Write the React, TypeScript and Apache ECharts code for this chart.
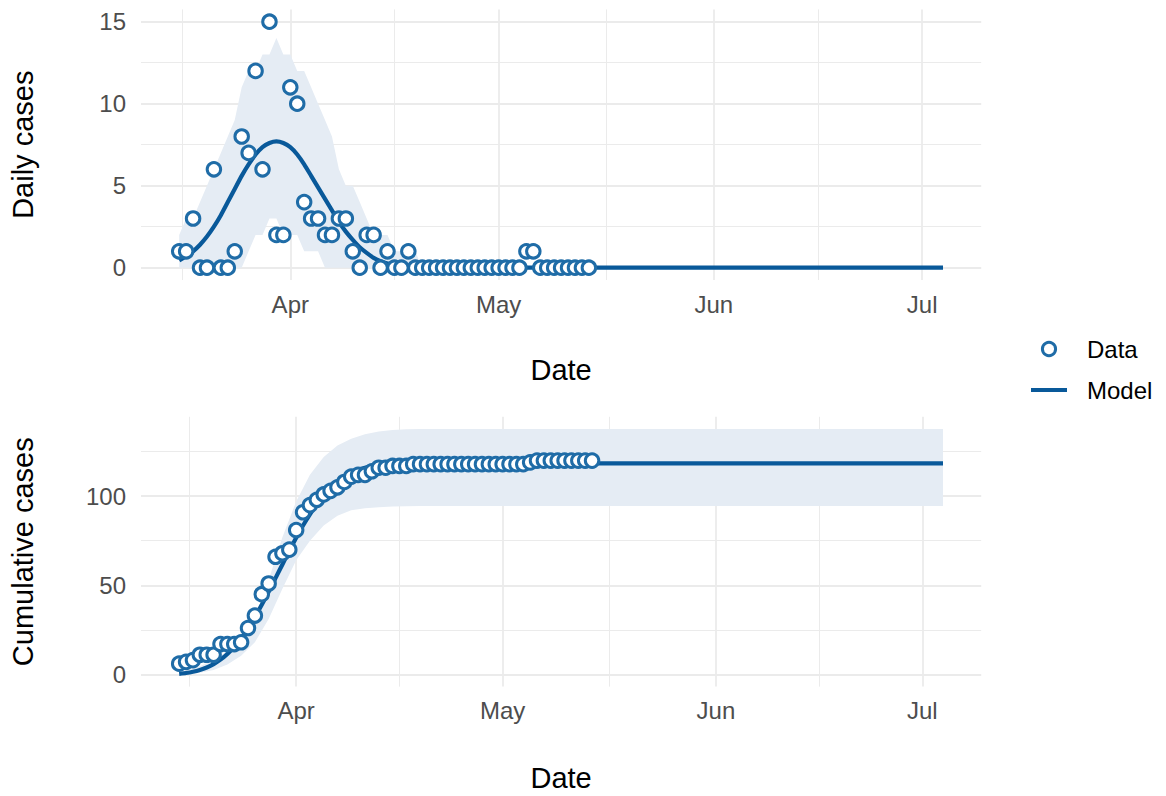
import React, { useEffect, useRef } from "react";
import * as echarts from "echarts";

// Days are counted from 1 April (day 0).
const monthTickDays = [0, 30, 61, 91];
const monthLabels = ["Apr", "May", "Jun", "Jul"];
const minorTickDays = [-15.5, 15, 45.5, 76];

const dailyTicks = [0, 5, 10, 15];
const dailyMinorTicks = [2.5, 7.5, 12.5];
const cumTicks = [0, 50, 100];
const cumMinorTicks = [25, 75, 125];

const dailyDays = [-16, -15, -14, -13, -12, -11, -10, -9, -8, -7, -6, -5, -4, -3, -2, -1, 0, 1, 2, 3, 4, 5, 6, 7, 8, 9, 10, 11, 12, 13, 14, 15, 16, 17, 18, 19, 20, 21, 22, 23, 24, 25, 26, 27, 28, 29, 30, 31, 32, 33, 34, 35, 36, 37, 38, 39, 40, 41, 42, 43];
const dailyCases = [1, 1, 3, 0, 0, 6, 0, 0, 1, 8, 7, 12, 6, 15, 2, 2, 11, 10, 4, 3, 3, 2, 2, 3, 3, 1, 0, 2, 2, 0, 1, 0, 0, 1, 0, 0, 0, 0, 0, 0, 0, 0, 0, 0, 0, 0, 0, 0, 0, 0, 1, 1, 0, 0, 0, 0, 0, 0, 0, 0];

const cumDays = [-17, -16, -15, -14, -13, -12, -11, -10, -9, -8, -7, -6, -5, -4, -3, -2, -1, 0, 1, 2, 3, 4, 5, 6, 7, 8, 9, 10, 11, 12, 13, 14, 15, 16, 17, 18, 19, 20, 21, 22, 23, 24, 25, 26, 27, 28, 29, 30, 31, 32, 33, 34, 35, 36, 37, 38, 39, 40, 41, 42, 43];
const cumulativeCases = [6, 7, 8, 11, 11, 11, 17, 17, 17, 18, 26, 33, 45, 51, 66, 68, 70, 81, 91, 95, 98, 101, 103, 105, 108, 111, 112, 112, 114, 116, 116, 117, 117, 117, 118, 118, 118, 118, 118, 118, 118, 118, 118, 118, 118, 118, 118, 118, 118, 118, 118, 119, 120, 120, 120, 120, 120, 120, 120, 120, 120];

const modelDays = [-16, -15, -14, -13, -12, -11, -10, -9, -8, -7, -6, -5, -4, -3, -2, -1, 0, 1, 2, 3, 4, 5, 6, 7, 8, 9, 10, 11, 12, 13, 14, 15, 16, 17, 18, 19, 20, 94];
const modelDaily = [0.45, 0.7, 1.0, 1.4, 1.9, 2.5, 3.2, 4.0, 4.8, 5.6, 6.3, 6.9, 7.35, 7.6, 7.7, 7.6, 7.35, 6.9, 6.3, 5.6, 4.9, 4.2, 3.5, 2.8, 2.2, 1.7, 1.25, 0.9, 0.6, 0.4, 0.25, 0.15, 0.08, 0.04, 0.02, 0.01, 0, 0];
const dailyUpper = [2, 3, 3, 4, 5, 6, 7, 8, 9, 11, 12, 12, 13, 13, 14, 13, 13, 12, 12, 11, 10, 9, 8, 6, 5, 5, 4, 3, 2, 2, 2, 1, 1, 1, 1, 0, 0, 0];
const dailyLower = [0, 0, 0, 0, 0, 0, 0, 0, 0, 0, 1, 2, 2, 3, 3, 2, 2, 2, 1, 1, 1, 0, 0, 0, 0, 0, 0, 0, 0, 0, 0, 0, 0, 0, 0, 0, 0, 0];

const modelCumDays = [-17, -16, -15, -14, -13, -12, -11, -10, -9, -8, -7, -6, -5, -4, -3, -2, -1, 0, 1, 2, 3, 4, 5, 6, 7, 8, 9, 10, 11, 12, 13, 14, 15, 16, 17, 18, 19, 20, 94];
const modelCumulative = [0.3, 0.75, 1.45, 2.45, 3.85, 5.75, 8.25, 11.45, 15.45, 20.25, 25.85, 32.15, 39.05, 46.4, 54.0, 61.7, 69.3, 76.65, 83.55, 89.85, 95.45, 100.35, 104.55, 108.05, 110.85, 113.05, 114.75, 116.0, 116.9, 117.5, 117.9, 118.15, 118.3, 118.38, 118.42, 118.44, 118.45, 118.45, 118.45];

const cumBandDays = [-17, -16, -14, -12, -10, -8, -6, -4, -2, 0, 2, 4, 6, 8, 10, 12, 14, 16, 18, 94];
const cumUpper = [1.5, 2.2, 4.5, 8, 13, 21, 32, 53, 77, 97, 112, 122, 128.5, 132.3, 134.8, 136.3, 137.2, 137.6, 137.7, 137.7];
const cumLower = [0, 0.2, 0.9, 2.4, 5.5, 10.5, 18, 31, 48, 64, 75, 83.5, 89, 92.1, 93.2, 93.8, 94.2, 94.4, 94.5, 94.5];

const FONT = "'Liberation Sans', Arial, Helvetica, sans-serif";
const CIRCLE = "#1F6CA7";
const LINE = "#09599A";
const BAND = "#E5ECF4";
const GRID = "#EBEBEB";

function pairs(xs: number[], ys: number[]) {
  return xs.map((x, i) => [x, ys[i]]);
}

function gridMarks(yMajor: number[], yMinor: number[]) {
  const minor = { color: GRID, width: 1, type: "solid" };
  const major = { color: GRID, width: 1.8, type: "solid" };
  return {
    symbol: ["none", "none"],
    silent: true,
    animation: false,
    z: 1,
    label: { show: false },
    emphasis: { disabled: true },
    data: [
      ...yMinor.map((v) => ({ yAxis: v, lineStyle: minor })),
      ...minorTickDays.map((v) => ({ xAxis: v, lineStyle: minor })),
      ...yMajor.map((v) => ({ yAxis: v, lineStyle: major })),
      ...monthTickDays.map((v) => ({ xAxis: v, lineStyle: major })),
    ],
  };
}

function bandSeries(axisIndex: number, xs: number[], hi: number[], lo: number[]) {
  return {
    type: "custom",
    xAxisIndex: axisIndex,
    yAxisIndex: axisIndex,
    data: [[xs[0], lo[0]]],
    silent: true,
    z: 2,
    renderItem: (params: any, api: any) => {
      if (params.dataIndex !== 0) return null;
      const upper = xs.map((x, i) => api.coord([x, hi[i]]));
      const lower = xs.map((x, i) => api.coord([x, lo[i]])).reverse();
      return {
        type: "polygon",
        shape: { points: upper.concat(lower) },
        style: { fill: BAND },
        silent: true,
      };
    },
  };
}

function xAxisCfg(gridIndex: number, min: number, max: number, nameGap: number) {
  return {
    type: "value",
    gridIndex,
    min,
    max,
    name: "Date",
    nameLocation: "middle",
    nameGap,
    nameTextStyle: { fontFamily: FONT, fontSize: 29, color: "#000000" },
    axisLine: { show: false },
    axisTick: { show: false },
    splitLine: { show: false },
    axisLabel: {
      customValues: monthTickDays,
      formatter: (v: number) => {
        const i = monthTickDays.indexOf(v);
        return i >= 0 ? monthLabels[i] : "";
      },
      fontFamily: FONT,
      fontSize: 24,
      color: "#4D4D4D",
      margin: 12,
    },
  };
}

function yAxisCfg(gridIndex: number, name: string, min: number, max: number, ticks: number[]) {
  return {
    type: "value",
    gridIndex,
    min,
    max,
    name,
    nameLocation: "middle",
    nameGap: 104,
    nameRotate: 90,
    nameTextStyle: { fontFamily: FONT, fontSize: 29, color: "#000000" },
    axisLine: { show: false },
    axisTick: { show: false },
    splitLine: { show: false },
    axisLabel: {
      customValues: ticks,
      fontFamily: FONT,
      fontSize: 24,
      color: "#4D4D4D",
      margin: 15,
    },
  };
}

export default function App() {
  const ref = useRef<HTMLDivElement>(null);

  useEffect(() => {
    document.body.style.margin = "0";
    if (!ref.current) return;
    const chart = echarts.init(ref.current, null, { renderer: "svg" });

    const option: any = {
      animation: false,
      backgroundColor: "#ffffff",
      grid: [
        { left: 140.8, top: 9.4, width: 840.4, height: 270.6 },
        { left: 140.8, top: 416.8, width: 840.4, height: 269.8 },
      ],
      xAxis: [xAxisCfg(0, -21.5, 99.5, 75), xAxisCfg(1, -22.55, 99.55, 77)],
      yAxis: [
        yAxisCfg(0, "Daily cases", -0.75, 15.75, dailyTicks),
        yAxisCfg(1, "Cumulative cases", -6.885, 144.585, cumTicks),
      ],
      graphic: [
        {
          type: "circle",
          shape: { cx: 1049, cy: 349, r: 6.6 },
          style: { fill: "#ffffff", stroke: CIRCLE, lineWidth: 3 },
          silent: true,
        },
        {
          type: "text",
          x: 1087,
          y: 349,
          style: { text: "Data", fontFamily: FONT, fontSize: 24, fill: "#000000", verticalAlign: "middle" },
          silent: true,
        },
        {
          type: "rect",
          shape: { x: 1031, y: 388, width: 36, height: 4 },
          style: { fill: LINE },
          silent: true,
        },
        {
          type: "text",
          x: 1087,
          y: 390,
          style: { text: "Model", fontFamily: FONT, fontSize: 24, fill: "#000000", verticalAlign: "middle" },
          silent: true,
        },
      ],
      series: [
        {
          type: "line",
          xAxisIndex: 0,
          yAxisIndex: 0,
          data: [[0, 0]],
          symbol: "none",
          lineStyle: { opacity: 0 },
          silent: true,
          z: 0,
          markLine: gridMarks(dailyTicks, dailyMinorTicks),
        },
        {
          type: "line",
          xAxisIndex: 1,
          yAxisIndex: 1,
          data: [[0, 0]],
          symbol: "none",
          lineStyle: { opacity: 0 },
          silent: true,
          z: 0,
          markLine: gridMarks(cumTicks, cumMinorTicks),
        },
        bandSeries(0, modelDays, dailyUpper, dailyLower),
        bandSeries(1, cumBandDays, cumUpper, cumLower),
        {
          name: "Model",
          type: "line",
          xAxisIndex: 0,
          yAxisIndex: 0,
          data: pairs(modelDays, modelDaily),
          symbol: "none",
          smooth: 0.2,
          lineStyle: { color: LINE, width: 4.2 },
          itemStyle: { color: LINE },
          z: 3,
        },
        {
          name: "Model",
          type: "line",
          xAxisIndex: 1,
          yAxisIndex: 1,
          data: pairs(modelCumDays, modelCumulative),
          symbol: "none",
          smooth: 0.2,
          lineStyle: { color: LINE, width: 4.2 },
          itemStyle: { color: LINE },
          z: 3,
        },
        {
          name: "Data",
          type: "scatter",
          xAxisIndex: 0,
          yAxisIndex: 0,
          data: pairs(dailyDays, dailyCases),
          symbol: "circle",
          symbolSize: 13.5,
          itemStyle: { color: "#ffffff", borderColor: CIRCLE, borderWidth: 3, opacity: 1 },
          z: 4,
        },
        {
          name: "Data",
          type: "scatter",
          xAxisIndex: 1,
          yAxisIndex: 1,
          data: pairs(cumDays, cumulativeCases),
          symbol: "circle",
          symbolSize: 13.5,
          itemStyle: { color: "#ffffff", borderColor: CIRCLE, borderWidth: 3, opacity: 1 },
          z: 4,
        },
      ],
    };

    chart.setOption(option);
    return () => chart.dispose();
  }, []);

  return <div ref={ref} style={{ width: 1166, height: 796 }} />;
}
